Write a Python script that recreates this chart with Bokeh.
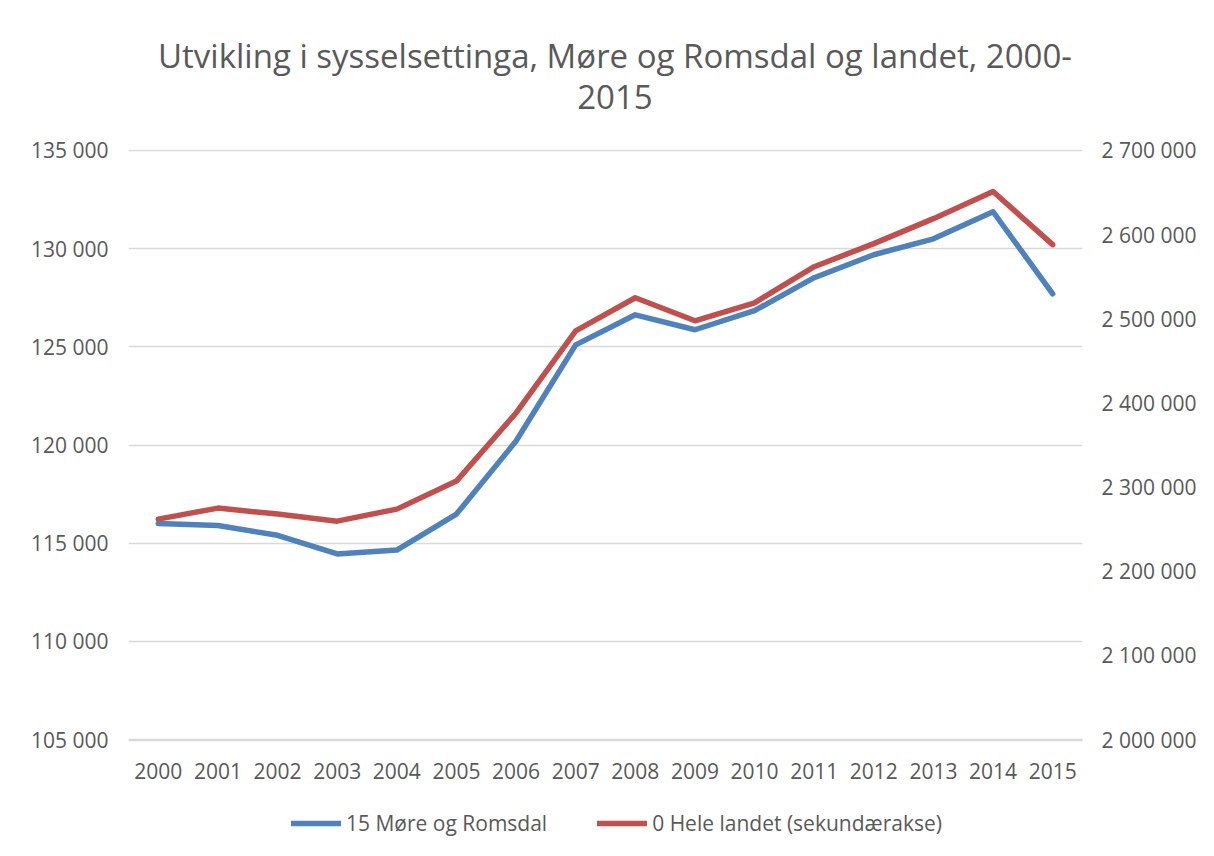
from bokeh.plotting import figure
from bokeh.layouts import column
from bokeh.models import (Range1d, LinearAxis, FixedTicker, CustomJSTickFormatter,
                          Legend, LegendItem, Label)
from bokeh.embed import file_html
from bokeh.resources import INLINE

years = list(range(2000, 2016))
more_romsdal = [116000, 115900, 115400, 114450, 114650, 116480, 120200, 125100,
                126630, 125870, 126840, 128520, 129690, 130500, 131880, 127700]
hele_landet = [2261900, 2275000, 2267900, 2259500, 2273800, 2307100, 2388100, 2485700,
               2525000, 2497600, 2519000, 2561900, 2589300, 2619000, 2651200, 2588100]
left_ticks = [105000, 110000, 115000, 120000, 125000, 130000, 135000]
right_ticks = [2000000, 2100000, 2200000, 2300000, 2400000, 2500000, 2600000, 2700000]
title_lines = ["Utvikling i sysselsettinga, Møre og Romsdal og landet, 2000-", "2015"]
series_names = ["15 Møre og Romsdal", "0 Hele landet (sekundærakse)"]

FONT = "Open Sans"
TXT = "#595959"
BLUE = "#4F81BD"
RED = "#C0504D"
GRID = "#D9D9D9"
FS = "21px"
W = 1198
BL, FW, BR = 128, 954, 116   # left border, frame width, right border (frames are aligned in the column)


def blank(height):
    f = figure(width=W, height=height, output_backend="svg", toolbar_location=None,
               x_axis_type=None, y_axis_type=None, x_range=Range1d(BL, BL + FW),
               y_range=Range1d(0, height), min_border_left=BL, min_border_right=BR,
               min_border_top=0, min_border_bottom=0)
    f.outline_line_color = None
    f.xgrid.visible = False
    f.ygrid.visible = False
    return f


# ---- title area ----
TH = 129
pt = blank(TH)
pt.add_layout(Label(x=615, y=TH - 55, text=title_lines[0], text_align="center",
                    text_baseline="middle", text_font=FONT, text_font_size="33px",
                    text_color=TXT))
pt.add_layout(Label(x=615, y=TH - 96, text=title_lines[1], text_align="center",
                    text_baseline="middle", text_font=FONT, text_font_size="33px",
                    text_color=TXT))

# ---- main chart ----
lpad = 50
rpad = lpad * (right_ticks[-1] - right_ticks[0]) / (left_ticks[-1] - left_ticks[0])

p = figure(frame_width=FW, frame_height=591, output_backend="svg", toolbar_location=None,
           x_range=Range1d(1999.5, 2015.5),
           y_range=Range1d(left_ticks[0] - lpad, left_ticks[-1] + lpad),
           min_border_left=BL, min_border_right=BR, min_border_top=20,
           min_border_bottom=60, title=None)
p.outline_line_color = None
p.background_fill_color = "white"
p.border_fill_color = "white"

fmt = CustomJSTickFormatter(code="return tick.toFixed(0).replace(/\\B(?=(\\d{3})+(?!\\d))/g, ' ');")

p.extra_y_ranges = {"right": Range1d(right_ticks[0] - rpad, right_ticks[-1] + rpad)}

xa = p.xaxis[0]
xa.ticker = FixedTicker(ticks=years)
xa.major_label_overrides = {y: str(y) for y in years}
xa.axis_line_color = GRID
xa.axis_line_width = 1.3
xa.major_tick_line_color = None
xa.minor_tick_line_color = None
xa.major_label_text_font = FONT
xa.major_label_text_font_size = FS
xa.major_label_text_color = TXT
xa.major_label_standoff = 16

ya = p.yaxis[0]
ya.ticker = FixedTicker(ticks=left_ticks)
ya.formatter = fmt
ya.axis_line_color = None
ya.major_tick_line_color = None
ya.minor_tick_line_color = None
ya.major_label_text_font = FONT
ya.major_label_text_font_size = FS
ya.major_label_text_color = TXT
ya.major_label_standoff = 14

ra = LinearAxis(y_range_name="right", ticker=FixedTicker(ticks=right_ticks), formatter=fmt)
ra.axis_line_color = None
ra.major_tick_line_color = None
ra.minor_tick_line_color = None
ra.major_label_text_font = FONT
ra.major_label_text_font_size = FS
ra.major_label_text_color = TXT
ra.major_label_standoff = 13
p.add_layout(ra, "right")

p.xgrid.grid_line_color = None
p.ygrid.grid_line_color = GRID
p.ygrid.grid_line_width = 1.3

p.line(years, more_romsdal, line_color=BLUE, line_width=5.5, line_join="round", line_cap="round")
p.line(years, hele_landet, line_color=RED, line_width=5.5, line_join="round", line_cap="round",
       y_range_name="right")

# ---- legend area (proxy renderers hold a single point, so nothing is drawn in the frame) ----
LH = 48
pl = blank(LH)
g1 = pl.line(years[:1], more_romsdal[:1], line_color=BLUE, line_width=5.5, line_cap="round")
g2 = pl.line(years[:1], hele_landet[:1], line_color=RED, line_width=5.5, line_cap="round")
legend = Legend(items=[LegendItem(label=series_names[0], renderers=[g1]),
                       LegendItem(label=series_names[1], renderers=[g2])],
                orientation="horizontal", location=(291 - BL, 11),
                label_text_font=FONT, label_text_font_size=FS, label_text_color=TXT,
                glyph_width=50, glyph_height=20, spacing=50, border_line_color=None,
                background_fill_alpha=0, padding=0, margin=0, label_standoff=5)
pl.add_layout(legend, "center")

layout = column(pt, p, pl, spacing=0)
open("out.html", "w").write(file_html(layout, INLINE))
